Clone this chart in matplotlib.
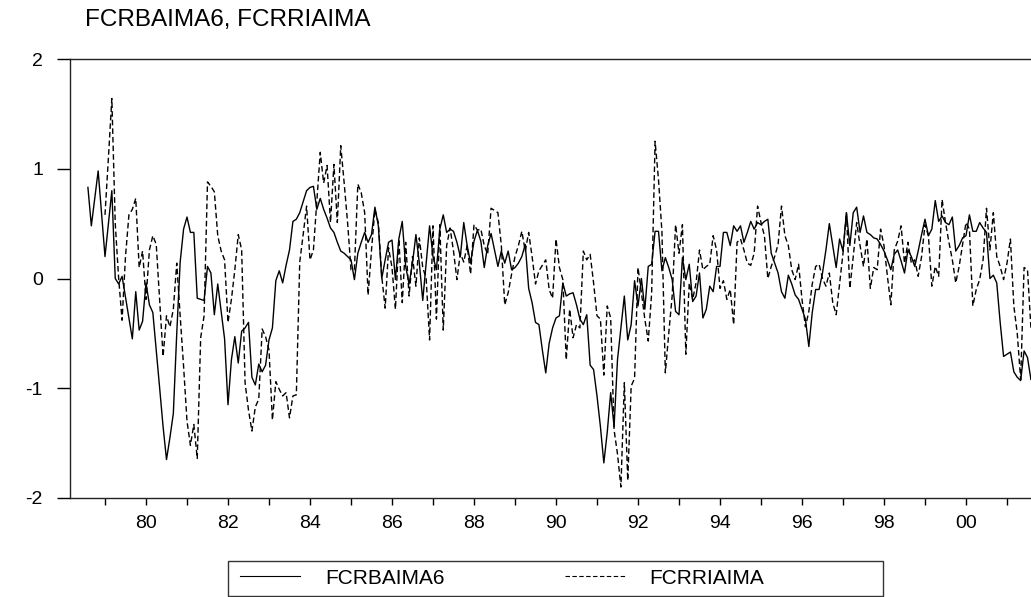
import numpy as np
import matplotlib
matplotlib.use("Agg")
import matplotlib.pyplot as plt
from matplotlib.patches import Rectangle

plt.rcParams['font.family'] = ['Liberation Sans', 'DejaVu Sans']

# Monthly series, first observation 1978:08
start_year = 1978
start_month = 8

fcrbaima6 = [
    0.83, 0.48, 0.73, 0.98, 0.59, 0.20, 0.50, 0.80, 0.00, -0.05,
    0.02, -0.17, -0.36, -0.55, -0.12, -0.47, -0.39, -0.04, -0.24, -0.31,
    -0.65, -1.00, -1.35, -1.65, -1.45, -1.23, -0.50, 0.15, 0.45, 0.56,
    0.42, 0.42, -0.18, -0.19, -0.20, 0.11, 0.05, -0.33, -0.05, -0.30,
    -0.55, -1.15, -0.74, -0.53, -0.77, -0.48, -0.45, -0.40, -0.90, -0.97,
    -0.78, -0.85, -0.79, -0.56, -0.45, -0.02, 0.07, -0.04, 0.12, 0.26,
    0.52, 0.54, 0.60, 0.70, 0.80, 0.83, 0.84, 0.63, 0.73, 0.63,
    0.55, 0.46, 0.42, 0.33, 0.25, 0.23, 0.20, 0.17, -0.01, 0.23,
    0.33, 0.42, 0.33, 0.40, 0.65, 0.48, 0.00, 0.17, 0.33, 0.35,
    -0.01, 0.36, 0.52, 0.11, -0.05, 0.14, 0.40, 0.14, -0.20, 0.14,
    0.48, 0.20, 0.08, 0.45, 0.58, 0.42, 0.45, 0.43, 0.33, 0.20,
    0.51, 0.30, 0.14, 0.34, 0.44, 0.34, 0.10, 0.30, 0.41, 0.26,
    0.11, 0.25, 0.14, 0.25, 0.08, 0.10, 0.14, 0.20, 0.31, -0.09,
    -0.22, -0.40, -0.42, -0.65, -0.86, -0.59, -0.45, -0.36, -0.34, -0.04,
    -0.16, -0.14, -0.13, -0.24, -0.37, -0.42, -0.33, -0.79, -0.83, -1.07,
    -1.35, -1.68, -1.40, -1.04, -1.35, -0.74, -0.45, -0.16, -0.56, -0.42,
    -0.02, -0.25, 0.00, -0.28, 0.11, 0.13, 0.43, 0.43, 0.07, 0.19,
    0.10, -0.01, -0.30, -0.33, 0.19, -0.01, 0.13, -0.21, -0.16, 0.05,
    -0.36, -0.28, -0.07, -0.12, 0.11, 0.11, 0.42, 0.42, 0.30, 0.48,
    0.43, 0.48, 0.33, 0.42, 0.52, 0.45, 0.51, 0.49, 0.52, 0.54,
    0.23, 0.14, 0.05, -0.12, -0.18, 0.03, -0.05, -0.15, -0.19, -0.28,
    -0.37, -0.62, -0.31, -0.10, -0.10, 0.05, 0.26, 0.50, 0.30, 0.10,
    0.36, 0.25, 0.60, 0.30, 0.60, 0.65, 0.42, 0.57, 0.42, 0.40,
    0.37, 0.36, 0.31, 0.25, 0.17, 0.08, 0.22, 0.26, 0.16, 0.05,
    0.26, 0.20, 0.11, 0.25, 0.40, 0.54, 0.39, 0.45, 0.71, 0.52,
    0.57, 0.51, 0.49, 0.56, 0.25, 0.30, 0.37, 0.39, 0.58, 0.43,
    0.43, 0.51, 0.46, 0.42, 0.00, 0.03, -0.04, -0.40, -0.71, -0.69,
    -0.67, -0.85, -0.90, -0.93, -0.66, -0.72, -0.92,
]

nan = float('nan')
fcrriaima = [
    nan, nan, nan, nan, nan, 0.58, 1.10, 1.64, 0.50, 0.00,
    -0.38, 0.20, 0.58, 0.63, 0.73, 0.10, 0.25, -0.19, 0.26, 0.39,
    0.31, -0.20, -0.71, -0.34, -0.44, -0.28, 0.14, -0.34, -0.80, -1.30,
    -1.52, -1.33, -1.64, -0.54, -0.34, 0.88, 0.84, 0.79, 0.39, 0.25,
    0.17, -0.40, -0.19, 0.08, 0.40, 0.26, -0.95, -1.20, -1.39, -1.17,
    -1.10, -0.46, -0.53, -0.65, -1.29, -0.94, -1.01, -1.07, -1.04, -1.27,
    -1.07, -1.06, 0.15, 0.40, 0.66, 0.17, 0.26, 0.70, 1.15, 0.87,
    1.03, 0.51, 1.04, 0.51, 1.21, 0.87, 0.51, 0.08, 0.08, 0.86,
    0.78, 0.60, -0.15, 0.26, 0.63, 0.51, 0.02, -0.27, 0.28, 0.10,
    -0.28, 0.36, -0.22, 0.33, -0.16, 0.20, -0.07, 0.37, 0.10, 0.00,
    -0.56, 0.48, -0.37, 0.49, -0.47, 0.30, 0.46, 0.25, -0.01, 0.23,
    0.15, 0.30, 0.04, 0.49, 0.44, 0.45, 0.30, 0.22, 0.64, 0.62,
    0.60, 0.30, -0.24, -0.13, 0.04, 0.20, 0.30, 0.43, 0.25, 0.42,
    0.20, -0.05, 0.07, 0.12, 0.17, -0.10, -0.18, 0.36, 0.10, -0.01,
    -0.74, -0.28, -0.54, -0.42, -0.45, 0.25, 0.17, 0.22, -0.04, -0.34,
    -0.37, -0.88, -0.25, -0.36, -1.38, -1.60, -1.90, -0.95, -1.84, -0.98,
    -0.91, 0.10, -0.13, -0.37, -0.57, -0.13, 1.25, 0.90, 0.43, -0.86,
    -0.50, -0.16, 0.49, 0.23, 0.49, -0.69, -0.04, -0.19, -0.04, 0.26,
    0.08, 0.11, 0.13, 0.39, 0.26, -0.09, -0.02, -0.19, -0.10, -0.42,
    0.33, 0.36, 0.26, 0.14, 0.12, 0.23, 0.66, 0.51, 0.39, 0.00,
    0.11, 0.20, 0.31, 0.66, 0.39, 0.30, 0.08, -0.01, 0.13, -0.19,
    -0.44, -0.30, -0.05, 0.11, 0.13, 0.00, -0.07, 0.05, -0.22, -0.33,
    -0.05, 0.23, 0.60, -0.09, 0.20, 0.51, 0.30, 0.11, 0.36, -0.09,
    0.10, 0.08, 0.45, 0.30, 0.02, -0.24, 0.26, 0.34, 0.48, 0.14,
    0.33, 0.14, 0.17, 0.02, 0.20, 0.49, 0.39, -0.07, 0.11, 0.02,
    0.72, 0.51, 0.33, 0.17, -0.04, 0.11, 0.31, 0.51, 0.45, -0.25,
    -0.10, -0.01, 0.17, 0.64, 0.26, 0.60, 0.20, 0.11, -0.01, 0.14,
    0.36, -0.25, -0.50, -0.92, 0.10, 0.08, -0.45,
]

series_names = ["FCRBAIMA6", "FCRRIAIMA"]
tick_years = list(range(1979, 2002))
label_years = list(range(1980, 2001, 2))
y_ticks = [-2, -1, 0, 1, 2]

n = len(fcrbaima6)
t = start_year + (start_month - 1) / 12 + np.arange(n) / 12.0

W, H = 1031, 597
fig = plt.figure(figsize=(W / 100, H / 100), dpi=100)
ax = fig.add_axes([70 / W, 99 / H, (1045 - 70) / W, 439 / H])

ax.plot(t, fcrbaima6, color='black', lw=1.0, label=series_names[0])
ax.plot(t, np.array(fcrriaima, dtype=float), color='black', lw=1.0,
        linestyle=(0, (4, 2.2)), label=series_names[1])

ax.set_xlim(1980 - 76 / 41, 1980 + (1045 - 146) / 41)
ax.set_ylim(-2, 2)

ax.set_xticks(tick_years)
ax.set_xticklabels([("%02d" % (y % 100)) if y in label_years else "" for y in tick_years])
ax.set_yticks(y_ticks)
ax.set_yticklabels([str(v) for v in y_ticks])

ax.tick_params(axis='x', direction='out', length=5, width=1, pad=7, labelsize=14, colors='black')
ax.tick_params(axis='y', direction='out', length=9.5, width=1, pad=10, labelsize=14, colors='black')

for s in ax.spines.values():
    s.set_linewidth(1.0)
    s.set_color('#222222')

fig.text(85 / W, 1 - 20 / H, "FCRBAIMA6, FCRRIAIMA", ha='left', va='center', fontsize=17.5)

# legend box
fig.patches.append(Rectangle((228 / W, 1.5 / H), (883 - 228) / W, (596 - 561) / H,
                             transform=fig.transFigure, fill=False,
                             edgecolor='#333333', linewidth=1.0))
fs = 15
fs_px = fs * 100 / 72
leg = fig.legend(loc='center left', bbox_to_anchor=(240 / W, 1 - 578 / H),
                 ncol=2, frameon=False, fontsize=fs,
                 handlelength=60 / fs_px, handletextpad=25 / fs_px,
                 columnspacing=120 / fs_px, borderpad=0, borderaxespad=0)
for line in leg.get_lines():
    line.set_linewidth(0.8)

fig.savefig("out.png", dpi=100)
